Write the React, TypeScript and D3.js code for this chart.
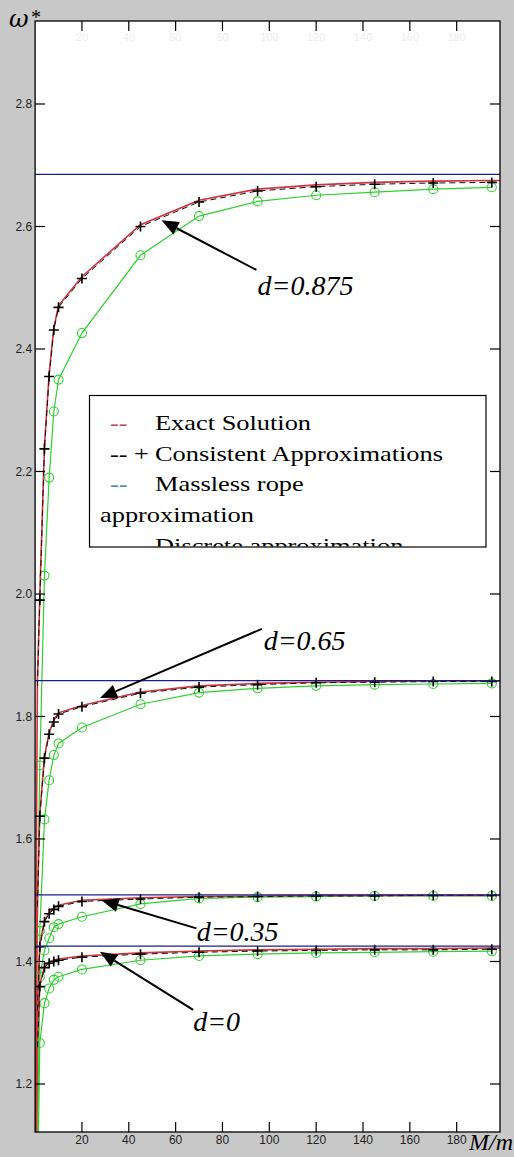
import React from 'react';
import * as d3 from 'd3';

// mass ratio M/m at which the approximations were evaluated
const markerM = [2, 4, 6, 8, 10, 20, 45, 70, 95, 120, 145, 170, 195];
// extra low mass ratios for the exact solution (drops off the bottom of the axes)
const exactLowM = [0.1, 0.3, 0.6, 1];

const xTicks = [20, 40, 60, 80, 100, 120, 140, 160, 180];
const yTicks = [1.2, 1.4, 1.6, 1.8, 2.0, 2.2, 2.4, 2.6, 2.8];

// d = 0.875
const exactLow875 = [0.7, 1.25, 1.62, 1.86];
const cons875 = [1.99, 2.237, 2.355, 2.431, 2.468, 2.515, 2.6, 2.64, 2.658, 2.665, 2.669, 2.671, 2.672];
const exact875 = [1.995, 2.242, 2.36, 2.435, 2.471, 2.518, 2.603, 2.643, 2.661, 2.668, 2.672, 2.674, 2.675];
const disc875 = [1.72, 2.03, 2.19, 2.298, 2.35, 2.426, 2.553, 2.617, 2.641, 2.651, 2.656, 2.661, 2.664];
const rope875 = 2.685;

// d = 0.65
const exactLow65 = [0.6, 1.05, 1.35, 1.5];
const cons65 = [1.637, 1.732, 1.771, 1.791, 1.804, 1.816, 1.838, 1.848, 1.852, 1.855, 1.856, 1.857, 1.857];
const exact65 = [1.64, 1.735, 1.774, 1.794, 1.806, 1.818, 1.84, 1.85, 1.854, 1.856, 1.857, 1.858, 1.858];
const disc65 = [1.45, 1.632, 1.696, 1.737, 1.756, 1.782, 1.82, 1.839, 1.846, 1.85, 1.852, 1.853, 1.854];
const rope65 = 1.8585;

// d = 0.35
const exactLow35 = [0.55, 0.95, 1.2, 1.33];
const cons35 = [1.424, 1.465, 1.478, 1.485, 1.49, 1.498, 1.502, 1.505, 1.506, 1.507, 1.507, 1.508, 1.508];
const exact35 = [1.427, 1.467, 1.48, 1.487, 1.492, 1.5, 1.504, 1.506, 1.507, 1.508, 1.508, 1.508, 1.508];
const disc35 = [1.375, 1.418, 1.438, 1.456, 1.461, 1.473, 1.494, 1.503, 1.505, 1.506, 1.507, 1.507, 1.507];
const rope35 = 1.5086;

// d = 0
const exactLow0 = [0.5, 0.9, 1.15, 1.27];
const cons0 = [1.359, 1.39, 1.397, 1.4, 1.402, 1.407, 1.412, 1.415, 1.417, 1.418, 1.419, 1.419, 1.42];
const exact0 = [1.362, 1.392, 1.399, 1.402, 1.404, 1.409, 1.414, 1.417, 1.419, 1.42, 1.421, 1.421, 1.422];
const disc0 = [1.267, 1.332, 1.356, 1.37, 1.375, 1.387, 1.402, 1.409, 1.412, 1.414, 1.415, 1.416, 1.417];
const rope0 = 1.425;

const families = [
  { exactLow: exactLow875, exact: exact875, cons: cons875, disc: disc875, rope: rope875 },
  { exactLow: exactLow65, exact: exact65, cons: cons65, disc: disc65, rope: rope65 },
  { exactLow: exactLow35, exact: exact35, cons: cons35, disc: disc35, rope: rope35 },
  { exactLow: exactLow0, exact: exact0, cons: cons0, disc: disc0, rope: rope0 },
];

// arrow annotations in data coordinates: tip, tail, text anchor
const notes = [
  { label: 'd=0.875', tip: [54, 2.61], tail: [94.5, 2.529], text: [95, 2.488] },
  { label: 'd=0.65', tip: [27.7, 1.83], tail: [96.8, 1.943], text: [97.6, 1.909] },
  { label: 'd=0.35', tip: [28.4, 1.5], tail: [68.9, 1.454], text: [69, 1.433] },
  { label: 'd=0', tip: [27.7, 1.416], tail: [67.5, 1.321], text: [67.5, 1.286] },
];

const legendRows = [
  { dash: '--', dashColor: '#c0504d', mark: '', text: 'Exact Solution' },
  { dash: '--', dashColor: '#000', mark: '+', text: 'Consistent Approximations' },
  { dash: '--', dashColor: '#4f81bd', mark: '', text: 'Massless rope' },
  { dash: '', dashColor: '#000', mark: '', text: 'approximation', wrap: true },
  { dash: '--', dashColor: '#00b050', mark: '', text: 'Discrete approximation' },
];

const W = 514;
const H = 1157;
const left = 35.1, right = 500, top = 21, bottom = 1132;

const App = () => {
  const x = d3.scaleLinear().domain([0, 198.5]).range([left, right]);
  const y = d3.scaleLinear().domain([1.1216, 2.9355]).range([bottom, top]);
  const line = d3.line<[number, number]>().x(d => x(d[0])).y(d => y(d[1]));

  const tickLen = 10;
  const red = '#d2343c';
  const green = '#2fd12f';
  const navy = '#1c1c8c';

  // legend text is horizontally stretched in the original
  const stretch = (tx: number, ty: number) => `translate(${tx},${ty}) scale(1.2,1)`;

  return (
    <svg width={W} height={H} style={{ position: 'absolute', left: 0, top: 0 }}
      fontFamily="'Liberation Sans', Arial, sans-serif">
      <defs>
        <clipPath id="plot"><rect x={left} y={top} width={right - left} height={bottom - top} /></clipPath>
        <clipPath id="leg"><rect x={90} y={396} width={396} height={150.5} /></clipPath>
      </defs>
      <rect x={0} y={0} width={W} height={H} fill="#c8c8c8" />
      <rect x={left} y={top} width={right - left} height={bottom - top} fill="#fff" />

      {/* faint ghost labels under top ticks */}
      {xTicks.map(t => (
        <text key={'g' + t} x={x(t)} y={top + 20} textAnchor="middle" fontSize={11} fill="#ececec">{t}</text>
      ))}

      <g clipPath="url(#plot)">
        {families.map((f, i) => {
          const ropePts: [number, number][] = [[0, f.rope], [198.5, f.rope]];
          const exactPts: [number, number][] = [
            ...exactLowM.map((m, j) => [m, f.exactLow[j]] as [number, number]),
            ...markerM.map((m, j) => [m, f.exact[j]] as [number, number]),
            [198.5, f.exact[f.exact.length - 1]],
          ];
          const consPts: [number, number][] = [
            [1, f.exactLow[3] - 0.01],
            ...markerM.map((m, j) => [m, f.cons[j]] as [number, number]),
          ];
          const discPts: [number, number][] = [
            [0.6, f.exactLow[2] - 0.25],
            ...markerM.map((m, j) => [m, f.disc[j]] as [number, number]),
          ];
          return (
            <g key={i}>
              <path d={line(discPts) || ''} fill="none" stroke={green} strokeWidth={1.2} />
              {markerM.map((m, j) => (
                <circle key={j} cx={x(m)} cy={y(f.disc[j])} r={4.5} fill="none" stroke={green} strokeWidth={1.1} />
              ))}
              <path d={line(exactPts) || ''} fill="none" stroke={red} strokeWidth={1.6} />
              <path d={line(consPts) || ''} fill="none" stroke="#111" strokeWidth={1} strokeDasharray="6,4" />
              {markerM.map((m, j) => (
                <path key={'c' + j} d={`M${x(m) - 5},${y(f.cons[j])}h10M${x(m)},${y(f.cons[j]) - 5}v10`}
                  stroke="#000" strokeWidth={1.6} />
              ))}
              <path d={line(ropePts) || ''} fill="none" stroke={navy} strokeWidth={1.3} />
            </g>
          );
        })}
      </g>

      {/* axes box */}
      <rect x={left} y={top} width={right - left} height={bottom - top} fill="none" stroke="#000" strokeWidth={1.3} />
      {xTicks.map(t => (
        <g key={t}>
          <line x1={x(t)} x2={x(t)} y1={bottom} y2={bottom - tickLen} stroke="#000" strokeWidth={1.2} />
          <line x1={x(t)} x2={x(t)} y1={top} y2={top + tickLen} stroke="#000" strokeWidth={1.2} />
          <text x={x(t)} y={bottom + 12} textAnchor="middle" fontSize={12} fill="#222">{t}</text>
        </g>
      ))}
      {yTicks.map(t => (
        <g key={t}>
          <line x1={left} x2={left + tickLen} y1={y(t)} y2={y(t)} stroke="#000" strokeWidth={1.2} />
          <line x1={right} x2={right - tickLen} y1={y(t)} y2={y(t)} stroke="#000" strokeWidth={1.2} />
          <text x={left - 3} y={y(t)} dy="0.35em" textAnchor="end" fontSize={12} fill="#222">{t.toFixed(1)}</text>
        </g>
      ))}

      {/* axis labels */}
      <text x={9} y={27} fontSize={24} fontStyle="italic" fontFamily="'DejaVu Serif', serif">ω</text>
      <text x={31} y={24} fontSize={20} fontFamily="'Liberation Serif', serif">*</text>
      <text x={469} y={1150} fontSize={24} fontStyle="italic" fontFamily="'Liberation Serif', serif">M/m</text>

      {/* annotations */}
      {notes.map(n => {
        const tx = x(n.tip[0]), ty = y(n.tip[1]);
        const sx = x(n.tail[0]), sy = y(n.tail[1]);
        const ang = Math.atan2(ty - sy, tx - sx);
        const L = 17, hw = 7;
        const bx = tx - L * Math.cos(ang), by = ty - L * Math.sin(ang);
        const px = -Math.sin(ang) * hw, py = Math.cos(ang) * hw;
        return (
          <g key={n.label}>
            <line x1={sx} y1={sy} x2={bx} y2={by} stroke="#000" strokeWidth={2} />
            <path d={`M${tx},${ty}L${bx + px},${by + py}L${bx - px},${by - py}Z`} fill="#000" />
            <text x={x(n.text[0])} y={y(n.text[1])} fontSize={28} fontStyle="italic"
              fontFamily="'Liberation Serif', serif">{n.label}</text>
          </g>
        );
      })}

      {/* legend */}
      <rect x={89.5} y={395.5} width={396.5} height={151.5} fill="#fff" stroke="#000" strokeWidth={1.2} />
      <g clipPath="url(#leg)" fontFamily="'Liberation Serif', serif" fontSize={22}>
        {legendRows.map((r, i) => {
          const by = 430 + i * 30.7;
          return (
            <g key={i}>
              {r.dash && <text transform={stretch(110, by)} fill={r.dashColor}>{r.dash}</text>}
              {r.mark && <text transform={stretch(134, by)} fill="#000">{r.mark}</text>}
              <text transform={stretch(r.wrap ? 100 : 155, by)} fill="#000">{r.text}</text>
            </g>
          );
        })}
      </g>
    </svg>
  );
};

export default App;
